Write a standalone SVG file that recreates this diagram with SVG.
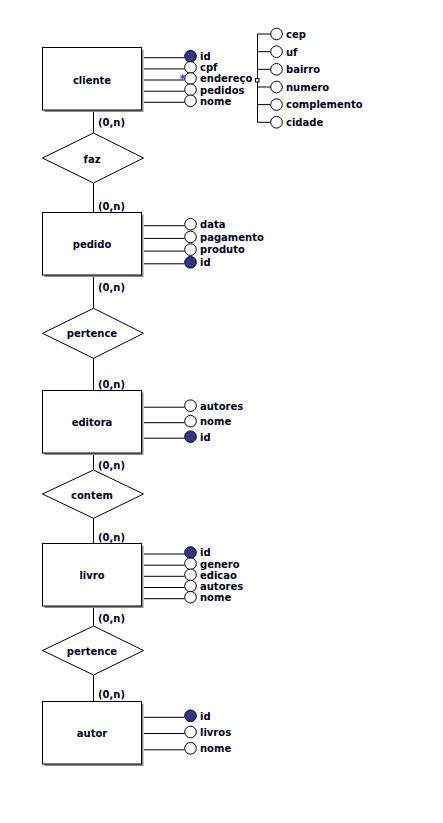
<svg xmlns="http://www.w3.org/2000/svg" width="443" height="823" viewBox="0 0 443 823">
<style>
text{font-family:"DejaVu Sans","Liberation Sans",sans-serif;font-weight:bold;font-size:10px;fill:#000020}
.ent{fill:#fff;stroke:#000;stroke-width:1}
.sh{fill:#8c8c8c}
.rel{fill:#fff;stroke:#000;stroke-width:1}
.ln{stroke:#000;stroke-width:1;fill:none}
.att{fill:#fff;stroke:#000;stroke-width:1}
.key{fill:#34348c;stroke:#000;stroke-width:1}
.mid{text-anchor:middle}
.ast{fill:#3333ff;font-weight:bold;font-size:12px}
</style>
<rect width="443" height="823" fill="#fff"/>
<g id="connectors">
<path class="ln" d="M93.5 110V133M93.5 183V212M93.5 276V308M93.5 358V390M93.5 453V470M93.5 518V543M93.5 607V626M93.5 675V701"/>
<path class="ln" d="M144 57.7H184.5M144 68.9H184.5M144 80H184.5M144 91.2H184.5M144 102.3H184.5"/>
<path class="ln" d="M144 225.7H184.5M144 238.4H184.5M144 251.1H184.5M144 263.8H184.5"/>
<path class="ln" d="M144 407.2H184.5M144 422.7H184.5M144 438.2H184.5"/>
<path class="ln" d="M144 554H184.5M144 565.2H184.5M144 576.3H184.5M144 587.5H184.5M144 598.7H184.5"/>
<path class="ln" d="M144 717.3H184.5M144 733.5H184.5M144 749.8H184.5"/>
<path class="ln" d="M257.5 34V122.3M257.5 34H270.7M257.5 51.7H270.7M257.5 69.3H270.7M257.5 87H270.7M257.5 104.6H270.7M257.5 122.3H270.7"/>
<text x="98" y="126">(0,n)</text>
<text x="98" y="209.5">(0,n)</text>
<text x="98" y="291">(0,n)</text>
<text x="98" y="388">(0,n)</text>
<text x="98" y="469">(0,n)</text>
<text x="98" y="540.5">(0,n)</text>
<text x="98" y="622">(0,n)</text>
<text x="98" y="698">(0,n)</text>
</g>
<g id="cliente">
<rect class="sh" x="44.5" y="49.5" width="99" height="62.5"/>
<rect class="ent" x="42.5" y="47.5" width="99" height="62.5"/>
<text class="mid" x="92" y="84">cliente</text>
<circle class="key" cx="190.5" cy="56.2" r="5.8"/><text x="200" y="60">id</text>
<circle class="att" cx="190.5" cy="67.4" r="5.8"/><text x="200" y="71.2">cpf</text>
<circle class="att" cx="190.5" cy="78.5" r="5.8"/><text x="200" y="82.3">endereço</text>
<text class="ast" x="179.5" y="83">*</text>
<rect x="255.5" y="78.5" width="3.5" height="3.5" fill="#fff" stroke="#000" stroke-width="1"/>
<circle class="att" cx="190.5" cy="89.7" r="5.8"/><text x="200" y="93.5">pedidos</text>
<circle class="att" cx="190.5" cy="100.8" r="5.8"/><text x="200" y="104.6">nome</text>
</g>
<g id="endereco">
<circle class="att" cx="276.5" cy="34" r="5.8"/><text x="286" y="37.8">cep</text>
<circle class="att" cx="276.5" cy="51.7" r="5.8"/><text x="286" y="55.5">uf</text>
<circle class="att" cx="276.5" cy="69.3" r="5.8"/><text x="286" y="73.1">bairro</text>
<circle class="att" cx="276.5" cy="87" r="5.8"/><text x="286" y="90.8">numero</text>
<circle class="att" cx="276.5" cy="104.6" r="5.8"/><text x="286" y="108.4">complemento</text>
<circle class="att" cx="276.5" cy="122.3" r="5.8"/><text x="286" y="126.1">cidade</text>
</g>
<g id="faz">
<polygon class="rel" points="42.5,158 93.5,133 143.5,158 93.5,183"/>
<text class="mid" x="92" y="162.5">faz</text>
</g>
<g id="pedido">
<rect class="sh" x="44.5" y="214.5" width="99" height="62.5"/>
<rect class="ent" x="42.5" y="212.5" width="99" height="62.5"/>
<text class="mid" x="92" y="248">pedido</text>
<circle class="att" cx="190.5" cy="224.2" r="5.8"/><text x="200" y="228">data</text>
<circle class="att" cx="190.5" cy="236.9" r="5.8"/><text x="200" y="240.7">pagamento</text>
<circle class="att" cx="190.5" cy="249.6" r="5.8"/><text x="200" y="253.4">produto</text>
<circle class="key" cx="190.5" cy="262.3" r="5.8"/><text x="200" y="266.1">id</text>
</g>
<g id="pertence1">
<polygon class="rel" points="42.5,333.3 93.5,308.3 143.5,333.3 93.5,358.3"/>
<text class="mid" x="92" y="337">pertence</text>
</g>
<g id="editora">
<rect class="sh" x="44.5" y="392.5" width="99" height="62.5"/>
<rect class="ent" x="42.5" y="390.5" width="99" height="62.5"/>
<text class="mid" x="92" y="426">editora</text>
<circle class="att" cx="190.5" cy="405.7" r="5.8"/><text x="200" y="409.5">autores</text>
<circle class="att" cx="190.5" cy="421.2" r="5.8"/><text x="200" y="425">nome</text>
<circle class="key" cx="190.5" cy="436.7" r="5.8"/><text x="200" y="440.5">id</text>
</g>
<g id="contem">
<polygon class="rel" points="42.5,494 93.5,470 143.5,494 93.5,518.3"/>
<text class="mid" x="92" y="499">contem</text>
</g>
<g id="livro">
<rect class="sh" x="44.5" y="545.5" width="99" height="62.5"/>
<rect class="ent" x="42.5" y="543.5" width="99" height="62.5"/>
<text class="mid" x="92" y="579">livro</text>
<circle class="key" cx="190.5" cy="552.5" r="5.8"/><text x="200" y="556.3">id</text>
<circle class="att" cx="190.5" cy="563.7" r="5.8"/><text x="200" y="567.5">genero</text>
<circle class="att" cx="190.5" cy="574.8" r="5.8"/><text x="200" y="578.6">edicao</text>
<circle class="att" cx="190.5" cy="586" r="5.8"/><text x="200" y="589.8">autores</text>
<circle class="att" cx="190.5" cy="597.2" r="5.8"/><text x="200" y="601">nome</text>
</g>
<g id="pertence2">
<polygon class="rel" points="42.5,650.5 93.5,626 143.5,650.5 93.5,675"/>
<text class="mid" x="92" y="654.5">pertence</text>
</g>
<g id="autor">
<rect class="sh" x="44.5" y="703.5" width="99" height="62.5"/>
<rect class="ent" x="42.5" y="701.5" width="99" height="62.5"/>
<text class="mid" x="92" y="737">autor</text>
<circle class="key" cx="190.5" cy="715.8" r="5.8"/><text x="200" y="719.6">id</text>
<circle class="att" cx="190.5" cy="732" r="5.8"/><text x="200" y="735.8">livros</text>
<circle class="att" cx="190.5" cy="748.3" r="5.8"/><text x="200" y="752.1">nome</text>
</g>
</svg>
